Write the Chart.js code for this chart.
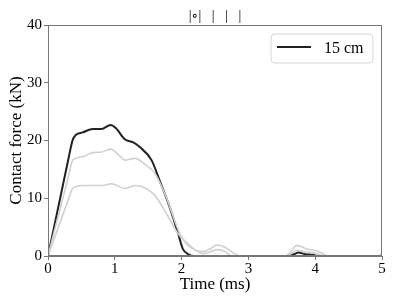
<!DOCTYPE html>
<html>
<head>
<meta charset="utf-8">
<script src="https://cdn.jsdelivr.net/npm/chart.js@4.4.0/dist/chart.umd.min.js"></script>
<style>
  html, body { margin: 0; padding: 0; background: #fff; }
  canvas { display: block; }
</style>
</head>
<body>
<canvas id="forceChart" width="395" height="304"></canvas>
<script>
// Contact force traces
const time15 = [0, 0.1, 0.2, 0.3, 0.37, 0.42, 0.52, 0.67, 0.8, 0.94, 1.02, 1.15, 1.27, 1.37, 1.55, 1.67, 1.82, 1.95, 2.02, 2.1, 2.2, 3.6, 3.68, 3.75, 3.85, 3.97, 4.02, 5];
const force15 = [0, 5.5, 11, 16.5, 20.1, 21.0, 21.4, 22.0, 22.0, 22.7, 22.1, 20.2, 19.7, 18.9, 16.6, 13.1, 8.5, 3.8, 1.2, 0.3, 0, 0, 0.3, 0.6, 0.3, 0.2, 0, 0];

const timeMid = [0, 0.1, 0.2, 0.3, 0.37, 0.52, 0.67, 0.8, 0.94, 1.05, 1.15, 1.3, 1.47, 1.6, 1.77, 1.95, 2.07, 2.2, 2.32, 2.42, 2.53, 2.65, 2.78, 2.88, 3.55, 3.65, 3.72, 3.8, 3.87, 3.99, 4.1, 4.2, 4.95, 5];
const forceMid = [0, 4.5, 9, 13.5, 16.6, 17.2, 17.9, 18.0, 18.5, 17.6, 16.6, 16.9, 15.7, 14.3, 10.2, 4.5, 2.1, 1.1, 0.75, 1.2, 1.9, 1.5, 0.5, 0, 0, 1.0, 1.8, 1.6, 1.2, 1.0, 0.5, 0, 0, 0.5];

const timeLow = [0, 0.1, 0.2, 0.3, 0.37, 0.52, 0.8, 0.95, 1.15, 1.32, 1.47, 1.6, 1.77, 1.95, 2.12, 2.22, 2.32, 2.42, 2.53, 2.65, 2.75, 3.55, 3.65, 3.72, 3.85, 3.97, 4.05, 4.15, 4.95, 5];
const forceLow = [0, 3.2, 6.4, 9.6, 11.7, 12.2, 12.2, 12.5, 11.7, 12.2, 11.7, 10.5, 7.4, 3.8, 1.9, 0.9, 0.4, 0.7, 1.1, 0.8, 0, 0, 0.5, 1.0, 0.7, 0.6, 0.3, 0, 0, 0.3];

const xTicks = [0, 1, 2, 3, 4, 5];
const yTicks = [0, 10, 20, 30, 40];
const titleText = '|\u2218|   |   |   |';
const legendLabel = '15 cm';

const serif = "'Liberation Serif', 'DejaVu Serif', serif";

function toPoints(xs, ys) {
    return xs.map((x, i) => ({ x: x, y: ys[i] }));
}

// frame, title and the in-plot legend
const decorPlugin = {
    id: 'decor',
    afterDraw(chart) {
        const ctx = chart.ctx;
        const a = chart.chartArea;
        ctx.save();
        ctx.strokeStyle = '#777';
        ctx.lineWidth = 1;
        ctx.strokeRect(a.left + 0.5, a.top + 0.5, a.right - a.left - 1, a.bottom - a.top - 1);

        ctx.fillStyle = '#000';
        ctx.font = '14px ' + serif;
        ctx.textAlign = 'center';
        ctx.textBaseline = 'alphabetic';
        ctx.fillText(titleText, (a.left + a.right) / 2, 20);

        // legend box
        const bx = 271, by = 34, bw = 102, bh = 29, r = 4;
        ctx.beginPath();
        ctx.moveTo(bx + r, by);
        ctx.arcTo(bx + bw, by, bx + bw, by + bh, r);
        ctx.arcTo(bx + bw, by + bh, bx, by + bh, r);
        ctx.arcTo(bx, by + bh, bx, by, r);
        ctx.arcTo(bx, by, bx + bw, by, r);
        ctx.closePath();
        ctx.fillStyle = 'rgba(255,255,255,0.85)';
        ctx.fill();
        ctx.strokeStyle = '#d6d6d6';
        ctx.lineWidth = 1;
        ctx.stroke();

        ctx.beginPath();
        ctx.moveTo(277, 47);
        ctx.lineTo(311, 47);
        ctx.strokeStyle = '#222';
        ctx.lineWidth = 2;
        ctx.stroke();

        ctx.fillStyle = '#000';
        ctx.font = '16px ' + serif;
        ctx.textAlign = 'left';
        ctx.fillText(legendLabel, 324, 53);
        ctx.restore();
    }
};

new Chart(document.getElementById('forceChart'), {
    type: 'line',
    data: {
        datasets: [
            {
                label: 'low',
                data: toPoints(timeLow, forceLow),
                borderColor: '#d0d0d0',
                borderWidth: 1.6,
                fill: false
            },
            {
                label: 'mid',
                data: toPoints(timeMid, forceMid),
                borderColor: '#d0d0d0',
                borderWidth: 1.6,
                fill: false
            },
            {
                label: legendLabel,
                data: toPoints(time15, force15),
                borderColor: '#222',
                borderWidth: 2,
                fill: false
            }
        ]
    },
    options: {
        responsive: false,
        animation: false,
        devicePixelRatio: 1,
        layout: { padding: { top: 25, right: 13, left: 0, bottom: 0 } },
        elements: {
            point: { radius: 0 },
            line: { cubicInterpolationMode: 'monotone' }
        },
        plugins: {
            legend: { display: false },
            tooltip: { enabled: false },
            title: { display: false }
        },
        scales: {
            x: {
                type: 'linear',
                min: 0,
                max: 5,
                afterBuildTicks: s => { s.ticks = xTicks.map(v => ({ value: v })); },
                afterFit: s => { s.height = 48; },
                grid: { drawOnChartArea: false, tickLength: 4, color: '#777' },
                border: { color: '#777' },
                ticks: { color: '#000', font: { family: serif, size: 15 }, padding: 0, maxRotation: 0 },
                title: { display: true, text: 'Time (ms)', color: '#000', font: { family: serif, size: 17 }, padding: { top: 0, bottom: 9 } }
            },
            y: {
                min: 0,
                max: 40,
                afterBuildTicks: s => { s.ticks = yTicks.map(v => ({ value: v })); },
                afterFit: s => { s.width = 48; },
                grid: { drawOnChartArea: false, tickLength: 4, color: '#777' },
                border: { color: '#777' },
                ticks: { color: '#000', font: { family: serif, size: 15 }, padding: 2 },
                title: { display: true, text: 'Contact force (kN)', color: '#000', font: { family: serif, size: 17 }, padding: { top: 6, bottom: 2 } }
            }
        }
    },
    plugins: [decorPlugin]
});
</script>
</body>
</html>
